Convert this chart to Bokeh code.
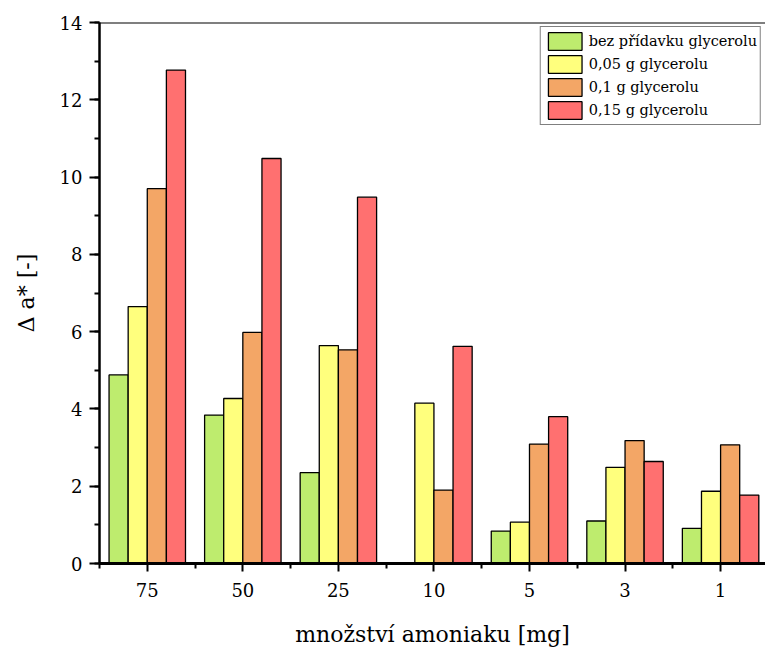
import numpy as np
from bokeh.plotting import figure
from bokeh.models import ColumnDataSource, Range1d, FixedTicker, Span, Legend, LegendItem
from bokeh.transform import dodge
from bokeh.embed import file_html
from bokeh.resources import INLINE

categories = ["75", "50", "25", "10", "5", "3", "1"]
bez = [4.88, 3.84, 2.35, float("nan"), 0.84, 1.10, 0.91]
g005 = [6.65, 4.27, 5.64, 4.15, 1.07, 2.49, 1.87]
g01 = [9.70, 5.98, 5.53, 1.90, 3.09, 3.18, 3.07]
g015 = [12.77, 10.48, 9.48, 5.62, 3.80, 2.64, 1.77]
series_names = ["bez přídavku glycerolu", "0,05 g glycerolu", "0,1 g glycerolu", "0,15 g glycerolu"]
colors = ["#BEEC6E", "#FFFF7D", "#F3A666", "#FF7070"]
y_ticks = [0, 2, 4, 6, 8, 10, 12, 14]

FONT = "DejaVu Serif"

pos = list(range(1, len(categories) + 1))
src = ColumnDataSource(dict(x=pos, s0=bez, s1=g005, s2=g01, s3=g015))

p = figure(width=765, height=650, output_backend="svg", toolbar_location=None,
           x_range=Range1d(0.5, 7.47), y_range=Range1d(0, 14))
p.min_border_left = 99
p.min_border_right = 0
p.min_border_top = 22
p.min_border_bottom = 87
p.outline_line_color = None
p.grid.visible = False
p.background_fill_color = "white"

offsets = [-0.3, -0.1, 0.1, 0.3]
renderers = []
for i, (col, off) in enumerate(zip(["s0", "s1", "s2", "s3"], offsets)):
    r = p.vbar(x=dodge("x", off, range=p.x_range), top=col, bottom=0, width=0.2, source=src,
               fill_color=colors[i], line_color="black", line_width=1.3)
    renderers.append(r)

# top border
p.add_layout(Span(location=14, dimension="width", line_color="black", line_width=2))

# axes
xa = p.xaxis[0]
xa.ticker = FixedTicker(ticks=pos, minor_ticks=[k + 0.5 for k in range(0, 8)])
xa.major_label_overrides = {k: c for k, c in zip(pos, categories)}
xa.axis_line_width = 3
xa.major_tick_out = 8
xa.major_tick_in = 0
xa.minor_tick_out = 5
xa.minor_tick_in = 0
xa.major_tick_line_width = 2
xa.minor_tick_line_width = 2
xa.major_label_text_font = FONT
xa.major_label_text_font_size = "18px"
xa.major_label_text_color = "black"
xa.major_label_standoff = 11
xa.axis_label = "množství amoniaku [mg]"
xa.axis_label_text_font = FONT
xa.axis_label_text_font_size = "22px"
xa.axis_label_text_font_style = "normal"
xa.axis_label_text_color = "black"
xa.axis_label_standoff = 22

ya = p.yaxis[0]
ya.ticker = FixedTicker(ticks=y_ticks, minor_ticks=list(range(0, 15)))
ya.axis_line_width = 2.5
ya.major_tick_out = 10
ya.major_tick_in = 0
ya.minor_tick_out = 5
ya.minor_tick_in = 0
ya.major_tick_line_width = 2
ya.minor_tick_line_width = 2
ya.major_label_text_font = FONT
ya.major_label_text_font_size = "18px"
ya.major_label_text_color = "black"
ya.major_label_standoff = 7
ya.axis_label = "Δ a* [-]"
ya.axis_label_text_font = FONT
ya.axis_label_text_font_size = "22px"
ya.axis_label_text_font_style = "normal"
ya.axis_label_text_color = "black"
ya.axis_label_standoff = 18

legend = Legend(items=[LegendItem(label=n, renderers=[r]) for n, r in zip(series_names, renderers)],
                location="top_right")
legend.margin = 4
legend.padding = 3
legend.spacing = 1
legend.glyph_width = 42
legend.glyph_height = 22
legend.label_height = 22
legend.label_standoff = 3
legend.label_text_font = FONT
legend.label_text_font_size = "14.5px"
legend.label_text_color = "black"
legend.border_line_color = "black"
legend.border_line_width = 1.5
legend.background_fill_alpha = 1
p.add_layout(legend)

open("out.html", "w").write(file_html(p, INLINE))
